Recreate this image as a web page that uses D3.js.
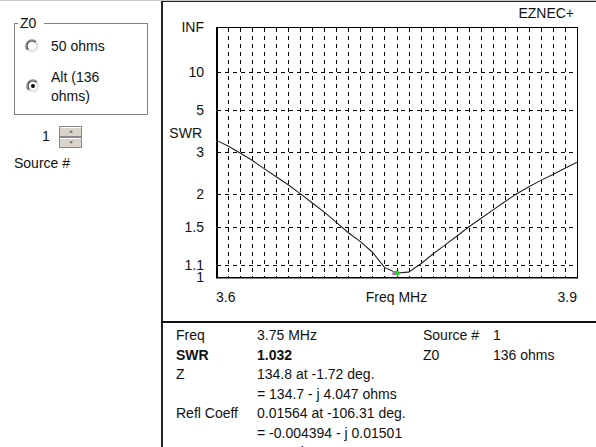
<!DOCTYPE html>
<html>
<head>
<meta charset="utf-8">
<script src="https://cdn.jsdelivr.net/npm/d3@7"></script>
<style>
  body { margin: 0; background: #fff; }
  svg text { font-family: "Liberation Sans", Arial, sans-serif; font-size: 14px; fill: #111; }
</style>
</head>
<body>
<svg id="chart" width="596" height="447"></svg>
<script>
// SWR sweep, 0.01 MHz steps
const freqs = [3.60, 3.61, 3.62, 3.63, 3.64, 3.65, 3.66, 3.67, 3.68, 3.69, 3.70,
  3.71, 3.72, 3.73, 3.74, 3.75, 3.76, 3.77, 3.78, 3.79, 3.80,
  3.81, 3.82, 3.83, 3.84, 3.85, 3.86, 3.87, 3.88, 3.89, 3.90];
const swrValues = [3.42, 3.20, 2.97, 2.75, 2.53, 2.34, 2.17, 2.00, 1.84, 1.70, 1.56,
  1.43, 1.33, 1.22, 1.08, 1.032, 1.04, 1.11, 1.20, 1.29, 1.39,
  1.50, 1.61, 1.73, 1.86, 2.00, 2.13, 2.26, 2.39, 2.54, 2.70];

const swrTicks = [1, 1.1, 1.5, 2, 3, 5, 10, Infinity];
const swrTickLabels = ['1', '1.1', '1.5', '2', '3', '5', '10', 'INF'];
const freqTicks = [3.6, 3.9];
const freqTickLabels = ['3.6', '3.9'];
const markerPoint = { freq: 3.75, swr: 1.032 };

const readoutLabels = ['Freq', 'SWR', 'Z', '', 'Refl Coeff', '', 'Ret Loss'];
const readoutValues = ['3.75 MHz', '1.032', '134.8 at -1.72 deg.', '= 134.7 - j 4.047 ohms',
  '0.01564 at -106.31 deg.', '= -0.004394 - j 0.01501', '36.12 dB'];
const sideLabels = ['Source #', 'Z0'];
const sideValues = ['1', '136 ohms'];

const svg = d3.select('#chart');

// swr -> reflection coefficient (the chart's vertical scale is linear in rho)
const rho = (s) => (s === Infinity ? 1 : (s - 1) / (s + 1));

const plot = { left: 216, top: 27, right: 577, bottom: 277 };
const x = d3.scaleLinear().domain([3.6, 3.9]).range([plot.left, plot.right]);
const y = d3.scaleLinear().domain([0, 1]).range([plot.bottom, plot.top]);
const px = (v) => Math.round(v) + 0.5;

// ---- window frame ----
svg.append('line').attr('x1', 0).attr('x2', 596).attr('y1', 0.5).attr('y2', 0.5)
  .attr('stroke', '#c8c8c8');
svg.append('line').attr('x1', 161).attr('x2', 596).attr('y1', 1.5).attr('y2', 1.5)
  .attr('stroke', '#222');
svg.append('line').attr('x1', 162).attr('x2', 162).attr('y1', 1).attr('y2', 447)
  .attr('stroke', '#222').attr('stroke-width', 2);
svg.append('line').attr('x1', 161).attr('x2', 596).attr('y1', 322).attr('y2', 322)
  .attr('stroke', '#111').attr('stroke-width', 2);

svg.append('text').attr('x', 574).attr('y', 18).attr('text-anchor', 'end').text('EZNEC+');

// ---- grid ----
const grid = svg.append('g').attr('stroke', '#000').attr('stroke-width', 1);
grid.selectAll('line.v')
  .data(d3.range(1, 30).map((i) => 3.6 + i * 0.01))
  .join('line')
  .attr('class', 'v')
  .attr('x1', (d) => px(x(d))).attr('x2', (d) => px(x(d)))
  .attr('y1', plot.top + 1).attr('y2', plot.bottom)
  .attr('stroke-dasharray', '4,4');

grid.selectAll('line.h')
  .data(swrTicks.slice(1, -1))
  .join('line')
  .attr('class', 'h')
  .attr('x1', plot.left + 1).attr('x2', plot.right)
  .attr('y1', (d) => px(y(rho(d)))).attr('y2', (d) => px(y(rho(d))))
  .attr('stroke-dasharray', '4,4');

svg.append('rect')
  .attr('x', plot.left + 0.5).attr('y', plot.top + 0.5)
  .attr('width', plot.right - plot.left).attr('height', plot.bottom - plot.top)
  .attr('fill', 'none').attr('stroke', '#000');
svg.append('line').attr('x1', plot.left).attr('x2', plot.right + 1)
  .attr('y1', plot.bottom + 1).attr('y2', plot.bottom + 1).attr('stroke', '#000');
svg.append('line').attr('x1', plot.left + 1.5).attr('x2', plot.left + 1.5)
  .attr('y1', plot.top).attr('y2', plot.bottom + 1).attr('stroke', '#000');

// ---- axes (labels only) ----
const yAxis = d3.axisLeft(y)
  .tickValues(swrTicks.map(rho))
  .tickSize(0).tickPadding(0)
  .tickFormat((d, i) => swrTickLabels[i]);
const yg = svg.append('g').attr('transform', 'translate(204,0)').call(yAxis);
yg.select('.domain').remove();
yg.selectAll('text').attr('font-family', null).attr('font-size', null).attr('fill', null);

svg.append('text').attr('x', 202).attr('y', 138).attr('text-anchor', 'end').text('SWR');

svg.selectAll('text.xl')
  .data(freqTicks)
  .join('text')
  .attr('class', 'xl')
  .attr('x', (d) => x(d))
  .attr('y', 302)
  .attr('text-anchor', (d, i) => (i === 0 ? 'start' : 'end'))
  .text((d, i) => freqTickLabels[i]);
svg.append('text').attr('x', (x(3.6) + x(3.9)) / 2).attr('y', 302)
  .attr('text-anchor', 'middle').text('Freq MHz');

// ---- curve ----
const line = d3.line()
  .x((d, i) => x(freqs[i]))
  .y((d) => y(rho(d)));
svg.append('path')
  .datum(swrValues)
  .attr('d', line)
  .attr('fill', 'none')
  .attr('stroke', '#222')
  .attr('stroke-width', 1.1);

const mx = x(markerPoint.freq), my = y(rho(markerPoint.swr));
svg.append('rect').attr('x', mx - 4).attr('y', my - 2).attr('width', 3).attr('height', 4)
  .attr('fill', '#d050d0');
svg.append('circle').attr('cx', mx + 0.5).attr('cy', my).attr('r', 2.5).attr('fill', '#22cc22');

// ---- readout table ----
const rowY = (i) => 340 + i * 19.5;
const rows = svg.append('g');
rows.selectAll('text.lab')
  .data(readoutLabels)
  .join('text')
  .attr('class', 'lab')
  .attr('x', 176).attr('y', (d, i) => rowY(i))
  .attr('font-weight', (d, i) => (i === 1 ? 'bold' : null))
  .text((d) => d);
rows.selectAll('text.val')
  .data(readoutValues)
  .join('text')
  .attr('class', 'val')
  .attr('x', 257).attr('y', (d, i) => rowY(i))
  .attr('font-weight', (d, i) => (i === 1 ? 'bold' : null))
  .text((d) => d);
rows.selectAll('text.slab')
  .data(sideLabels)
  .join('text')
  .attr('class', 'slab')
  .attr('x', 423).attr('y', (d, i) => rowY(i))
  .text((d) => d);
rows.selectAll('text.sval')
  .data(sideValues)
  .join('text')
  .attr('class', 'sval')
  .attr('x', 493).attr('y', (d, i) => rowY(i))
  .text((d) => d);

// ---- left controls ----
const ctl = svg.append('g');
ctl.append('rect').attr('x', 14.5).attr('y', 23.5).attr('width', 133).attr('height', 91)
  .attr('fill', 'none').attr('stroke', '#808080');
ctl.append('rect').attr('x', 18).attr('y', 16).attr('width', 26).attr('height', 14).attr('fill', '#fff');
ctl.append('text').attr('x', 20).attr('y', 28).text('Z0');

function ring(g, cx, cy, r0, r1, a0, a1, color) {
  g.append('path')
    .attr('d', d3.arc()({ innerRadius: r0, outerRadius: r1, startAngle: a0, endAngle: a1 }))
    .attr('transform', `translate(${cx},${cy})`)
    .attr('fill', color);
}
function radio(cx, cy, checked) {
  const g = ctl.append('g');
  g.append('circle').attr('cx', cx).attr('cy', cy).attr('r', 6).attr('fill', '#fff');
  const a = Math.PI / 4;
  ring(g, cx, cy, 5.5, 6.8, -3 * a, a, '#8a8a8a');
  ring(g, cx, cy, 4.4, 5.5, -3 * a, a, '#3a3a3a');
  ring(g, cx, cy, 5.5, 6.8, a, 5 * a, '#f4f4f4');
  ring(g, cx, cy, 4.4, 5.5, a, 5 * a, '#d4d0c8');
  if (checked) g.append('circle').attr('cx', cx).attr('cy', cy).attr('r', 2).attr('fill', '#000');
}
radio(32, 46, false);
radio(33, 86, true);
ctl.append('text').attr('x', 51).attr('y', 51).text('50 ohms');
ctl.append('text').attr('x', 51).attr('y', 82).text('Alt (136');
ctl.append('text').attr('x', 51).attr('y', 101).text('ohms)');

ctl.append('text').attr('x', 42).attr('y', 141).text('1');
[126, 137].forEach((by, i) => {
  const b = ctl.append('g');
  b.append('rect').attr('x', 59.5).attr('y', by + 0.5).attr('width', 22).attr('height', 10)
    .attr('fill', '#d8d4cc').attr('stroke', '#8a8a8a');
  b.append('line').attr('x1', 60).attr('x2', 81).attr('y1', by + 1.5).attr('y2', by + 1.5).attr('stroke', '#fff');
  const cy = by + 5.5;
  b.append('path')
    .attr('d', i === 0 ? `M69,${cy + 1}L73,${cy + 1}L71,${cy - 1}Z` : `M69,${cy - 1}L73,${cy - 1}L71,${cy + 1}Z`)
    .attr('fill', '#555');
});
ctl.append('text').attr('x', 14).attr('y', 168).text('Source #');
</script>
</body>
</html>
